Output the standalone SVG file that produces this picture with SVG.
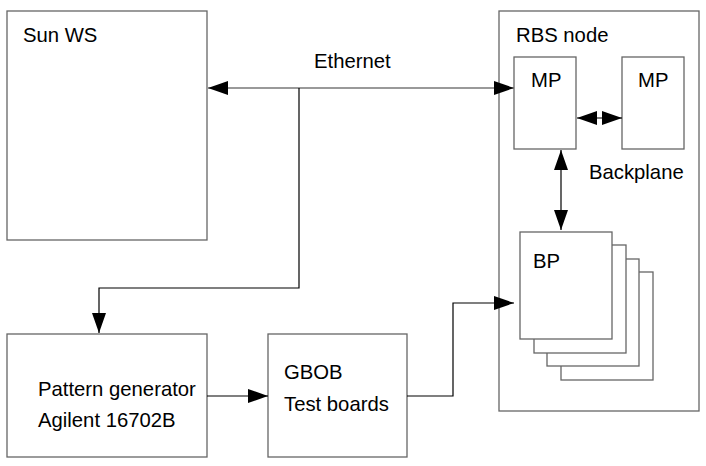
<svg xmlns="http://www.w3.org/2000/svg" width="706" height="466" viewBox="0 0 706 466">
<style>
.box{fill:#fff;stroke:#666;stroke-width:1.3}
.t{font-family:"Liberation Sans",Arial,sans-serif;font-size:20.3px;fill:#000}
.c{fill:none;stroke:#000;stroke-width:1.2}
.g{fill:none;stroke:#777;stroke-width:1.6}
</style>
<defs>
<marker id="ah" viewBox="0 0 20 14" refX="20" refY="7" markerWidth="20" markerHeight="14" markerUnits="userSpaceOnUse" orient="auto-start-reverse">
<path d="M0,0 L20,7 L0,14 Z" fill="#000"/>
</marker>
</defs>
<rect width="706" height="466" fill="#fff"/>
<g id="sunws"><rect class="box" x="7" y="11" width="200" height="229"/><text class="t" x="23" y="42">Sun WS</text></g>
<g id="rbs"><rect class="box" x="499" y="11" width="200" height="400"/><text class="t" x="516" y="42">RBS node</text></g>
<g id="mp1"><rect class="box" x="514" y="57" width="62" height="92"/><text class="t" x="531" y="87">MP</text></g>
<g id="mp2"><rect class="box" x="622" y="57" width="62" height="92"/><text class="t" x="638" y="87">MP</text></g>
<g id="backplane"><text class="t" x="589" y="179">Backplane</text></g>
<g id="bp">
<rect class="box" x="561" y="272" width="92" height="108"/>
<rect class="box" x="547" y="259" width="92" height="107"/>
<rect class="box" x="534" y="245" width="92" height="108"/>
<rect class="box" x="520" y="232" width="92" height="107"/>
<text class="t" x="533" y="268">BP</text>
</g>
<g id="patgen"><rect class="box" x="7" y="334" width="200" height="123"/><text class="t" x="38" y="396">Pattern generator</text><text class="t" x="38" y="427">Agilent 16702B</text></g>
<g id="gbob"><rect class="box" x="268" y="334" width="139" height="123"/><text class="t" x="284" y="379">GBOB</text><text class="t" x="284" y="411">Test boards</text></g>
<g id="connectors">
<text class="t" x="314" y="68">Ethernet</text>
<path class="g" d="M208,88 L514,88" marker-start="url(#ah)" marker-end="url(#ah)"/>
<path class="c" d="M299,88 L299,288 L99,288 L99,333" marker-end="url(#ah)"/>
<path class="c" d="M207,396 L268,396" marker-end="url(#ah)"/>
<path class="c" d="M407,396 L453,396 L453,303 L514,303" marker-end="url(#ah)"/>
<path class="c" d="M577,118 L622,118" marker-start="url(#ah)" marker-end="url(#ah)"/>
<path class="c" d="M561,150 L561,230" marker-start="url(#ah)" marker-end="url(#ah)"/>
</g>
</svg>
